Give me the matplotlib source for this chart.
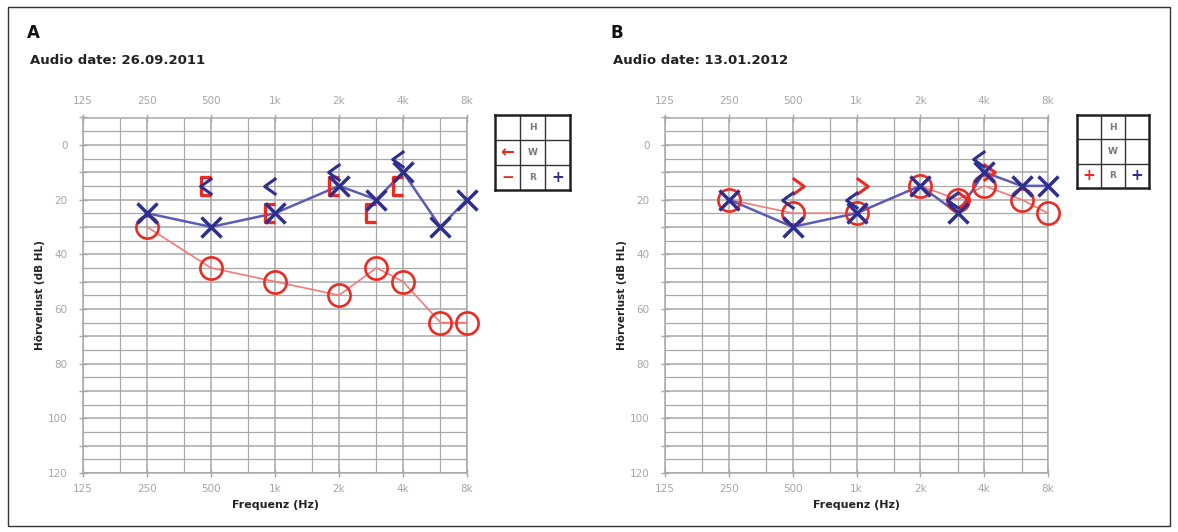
import matplotlib
matplotlib.use("Agg")
import matplotlib.pyplot as plt
from matplotlib.path import Path
from matplotlib.transforms import offset_copy
from matplotlib.ticker import FixedLocator, FuncFormatter
import matplotlib.patches as mpatches

# ---------------- data ----------------
freq_ticks = [125, 250, 500, 1000, 2000, 4000, 8000]
freq_tick_labels = ["125", "250", "500", "1k", "2k", "4k", "8k"]
freq_minor = [187.5, 375, 750, 1500, 3000, 6000]
freqs = [250, 500, 1000, 2000, 3000, 4000, 6000, 8000]

# Panel A (26.09.2011)
a_right_air = [30, 45, 50, 55, 45, 50, 65, 65]
a_left_air = [25, 30, 25, 15, 20, 10, 30, 20]
a_left_bone_f = [500, 1000, 2000, 4000]
a_left_bone = [15, 15, 10, 5]
a_right_bone_masked_f = [500, 1000, 2000, 3000, 4000]
a_right_bone_masked = [15, 25, 15, 25, 15]

# Panel B (13.01.2012)
b_right_air = [20, 25, 25, 15, 20, 15, 20, 25]
b_left_air = [20, 30, 25, 15, 25, 10, 15, 15]
b_right_bone_f = [500, 1000, 3000, 4000]
b_right_bone = [15, 15, 20, 10]
b_left_bone_f = [500, 1000, 3000, 4000]
b_left_bone = [20, 20, 20, 5]

y_ticks = [0, 20, 40, 60, 80, 100, 120]

# ---------------- style ----------------
RED = "#ec2a22"
RED_LINE = "#f27a78"
BLUE = "#2e2e8e"
BLUE_LINE = "#5b5bb5"
GRID = "#a8a8a8"
TICKTXT = "#a6a6a6"

M = Path.MOVETO
L = Path.LINETO
lt_marker = Path([(0.35, 0.5), (-0.35, 0.0), (0.35, -0.5)], [M, L, L])
gt_marker = Path([(-0.35, 0.5), (0.35, 0.0), (-0.35, -0.5)], [M, L, L])
br_marker = Path([(0.25, 0.5), (-0.25, 0.5), (-0.25, -0.5), (0.25, -0.5)], [M, L, L, L])

W, H = 1178, 532
fig = plt.figure(figsize=(W / 100, H / 100), dpi=100)
fig.patch.set_facecolor("white")

# outer frame
fig.add_artist(mpatches.Rectangle((8 / W, 1 - 526 / H), (1170 - 8) / W, (526 - 7) / H,
                                  transform=fig.transFigure, fill=False,
                                  edgecolor="#333333", lw=1.0))


def px_axes(x0, y0, x1, y1):
    return [x0 / W, 1 - y1 / H, (x1 - x0) / W, (y1 - y0) / H]


def setup_audiogram(ax):
    ax.set_xscale("log", base=2)
    ax.set_xlim(125, 8000)
    ax.set_ylim(120, -10)
    ax.xaxis.set_major_locator(FixedLocator(freq_ticks))
    ax.xaxis.set_minor_locator(FixedLocator(freq_minor))
    ax.xaxis.set_major_formatter(FuncFormatter(
        lambda v, p: freq_tick_labels[freq_ticks.index(int(round(v)))] if int(round(v)) in freq_ticks else ""))
    ax.xaxis.set_minor_formatter(FuncFormatter(lambda v, p: ""))
    ax.yaxis.set_major_locator(FixedLocator(list(range(-10, 121, 10))))
    ax.yaxis.set_minor_locator(FixedLocator(list(range(-5, 121, 10))))
    ax.yaxis.set_major_formatter(FuncFormatter(lambda v, p: str(int(v)) if int(v) in y_ticks else ""))
    ax.tick_params(axis="x", which="major", top=True, labeltop=True, bottom=True,
                   labelbottom=True, direction="inout", length=6, width=1,
                   color=GRID, labelcolor=TICKTXT, labelsize=7.5, pad=5)
    ax.tick_params(axis="x", which="minor", top=False, bottom=False)
    ax.tick_params(axis="y", which="major", left=True, right=False, direction="inout",
                   length=6, width=1, color=GRID, labelcolor=TICKTXT, labelsize=7.5, pad=8)
    ax.tick_params(axis="y", which="minor", left=False, right=False)
    ax.grid(True, which="major", color=GRID, lw=1.1)
    ax.grid(True, which="minor", color=GRID, lw=0.9)
    for s in ax.spines.values():
        s.set_color(GRID)
        s.set_linewidth(1.1)
    ax.set_axisbelow(True)
    ax.set_xlabel("Frequenz (Hz)", fontsize=8, fontweight="bold", color="#222222", labelpad=4)
    ax.set_ylabel("Hörverlust (dB HL)", fontsize=7.5, fontweight="bold", color="#222222", labelpad=2)


def draw_legend(x0, y0, x1, y1, left_r, left_w, right_r):
    lax = fig.add_axes(px_axes(x0, y0, x1, y1))
    lax.set_xlim(0, 3)
    lax.set_ylim(3, 0)
    lax.set_xticks([])
    lax.set_yticks([])
    for s in lax.spines.values():
        s.set_linewidth(1.8)
        s.set_color("#222222")
    for k in (1, 2):
        lax.axhline(k, color="#333333", lw=1.0)
        lax.axvline(k, color="#333333", lw=1.0)
    for r, t in enumerate(["H", "W", "R"]):
        lax.text(1.5, r + 0.5, t, ha="center", va="center", fontsize=6.5,
                 fontweight="bold", color="#777777")
    if left_w:
        lax.text(0.5, 1.5, left_w[0], ha="center", va="center", fontsize=12,
                 fontweight="bold", color=left_w[1])
    if left_r:
        lax.text(0.5, 2.5, left_r[0], ha="center", va="center", fontsize=11,
                 fontweight="bold", color=left_r[1])
    if right_r:
        lax.text(2.5, 2.5, right_r[0], ha="center", va="center", fontsize=11,
                 fontweight="bold", color=right_r[1])


def offset(ax, dx):
    return offset_copy(ax.transData, fig=fig, x=dx, y=0, units="dots")


def draw_panel(ax, r_air, l_air):
    ax.plot(freqs, r_air, color=RED_LINE, lw=1.2, zorder=3, clip_on=False)
    ax.plot(freqs, l_air, color=BLUE_LINE, lw=1.8, zorder=3, clip_on=False)
    ax.plot(freqs, r_air, ls="none", marker="o", ms=16, mfc="none", mec=RED, mew=1.9,
            zorder=4, clip_on=False)
    ax.plot(freqs, l_air, ls="none", marker="x", ms=15, mec=BLUE, mew=2.5,
            zorder=5, clip_on=False)


# ---------------- panel A ----------------
axA = fig.add_axes(px_axes(83, 117.5, 467, 473))
setup_audiogram(axA)
draw_panel(axA, a_right_air, a_left_air)
axA.plot(a_right_bone_masked_f, a_right_bone_masked, ls="none", marker=br_marker, ms=13,
         mfc="none", mec=RED, mew=2.4, zorder=4, transform=offset(axA, -5), clip_on=False)
axA.plot(a_left_bone_f, a_left_bone, ls="none", marker=lt_marker, ms=12,
         mfc="none", mec=BLUE, mew=2.2, zorder=5, transform=offset(axA, -5), clip_on=False)

# ---------------- panel B ----------------
axB = fig.add_axes(px_axes(665, 117.5, 1048, 473))
setup_audiogram(axB)
draw_panel(axB, b_right_air, b_left_air)
axB.plot(b_right_bone_f, b_right_bone, ls="none", marker=gt_marker, ms=12,
         mfc="none", mec=RED, mew=2.2, zorder=4, transform=offset(axB, 5), clip_on=False)
axB.plot(b_left_bone_f, b_left_bone, ls="none", marker=lt_marker, ms=12,
         mfc="none", mec=BLUE, mew=2.2, zorder=5, transform=offset(axB, -5), clip_on=False)

# ---------------- legends ----------------
draw_legend(495, 115, 570, 190, ("−", RED), ("←", RED), ("+", BLUE))
draw_legend(1077, 115, 1149, 188, ("+", RED), None, ("+", BLUE))

# ---------------- titles ----------------
fig.text(27 / W, 1 - 33 / H, "A", fontsize=12, fontweight="bold", va="center", ha="left", color="#111111")
fig.text(30 / W, 1 - 61 / H, "Audio date: 26.09.2011", fontsize=9.5, fontweight="bold",
         va="center", ha="left", color="#222222")
fig.text(611 / W, 1 - 33 / H, "B", fontsize=12, fontweight="bold", va="center", ha="left", color="#111111")
fig.text(613 / W, 1 - 61 / H, "Audio date: 13.01.2012", fontsize=9.5, fontweight="bold",
         va="center", ha="left", color="#222222")

fig.savefig("out.png", dpi=100, facecolor="white")
